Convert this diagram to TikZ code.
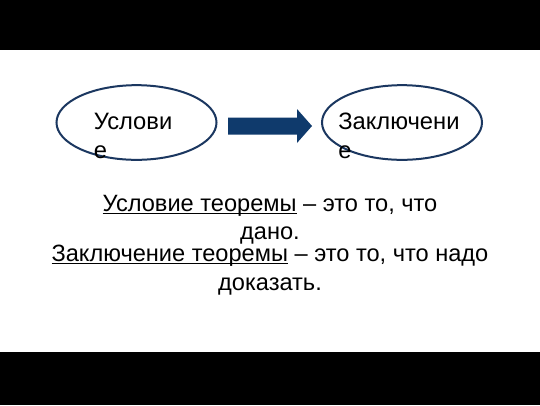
\documentclass[tikz,border=0pt]{standalone}
\usepackage{fontspec}
\setmainfont{Liberation Sans}
\usetikzlibrary{shapes.geometric,calc}
\definecolor{ovalcol}{RGB}{27,55,96}
\definecolor{arrowcol}{RGB}{15,58,108}
\newcommand\podcherk[1]{\setbox0\hbox{#1}\rlap{\vrule height -1.3pt depth 2.4pt width \wd0}\box0\relax}
\tikzset{
  oval/.style={ellipse, draw=ovalcol, line width=1.5pt, minimum width=120pt, minimum height=56pt, inner sep=0pt},
  ovaltext/.style={anchor=north west, align=left, inner sep=0pt, font=\fontsize{17.8}{22}\selectfont},
  bigtext/.style={anchor=north, align=center, inner sep=0pt, font=\fontsize{17.7}{21.2}\selectfont}
}

\begin{document}
\begin{tikzpicture}[x=0.75pt, y=-0.75pt]
\fill[white] (0,0) rectangle (540,405);
\fill[black] (0,0) rectangle (540,50);
\fill[black] (0,352) rectangle (540,405);
% ovals
\node[oval] (usl) at (136.5,122.5) {};
\node[oval] (zakl) at (402,122.5) {};
\node[ovaltext] (usltext) at (93.5,112.5) {Услови\\е};
\node[ovaltext] (zakltext) at (338,112.5) {Заключени\\е};
% block arrow
\coordinate (a0) at ($(usl.east)+(10.5,3.5)$);
\coordinate (a1) at ($(zakl.west)+(-9,3.5)$);
\fill[arrowcol] ($(a0)+(0,-8.5)$) -- ($(a1)+(-15,-8.5)$) -- ($(a1)+(-15,-17)$) -- (a1)
  -- ($(a1)+(-15,17)$) -- ($(a1)+(-15,8.5)$) -- ($(a0)+(0,8.5)$) -- cycle;
% definitions
\node[bigtext] (def1) at (270,194.5) {\podcherk{Условие теоремы} – это то, что\\дано.};
\node[bigtext, font=\fontsize{17.7}{21.8}\selectfont] (def2) at (270,244.5) {\podcherk{Заключение теоремы} – это то, что надо\\доказать.};
\end{tikzpicture}
\end{document}
